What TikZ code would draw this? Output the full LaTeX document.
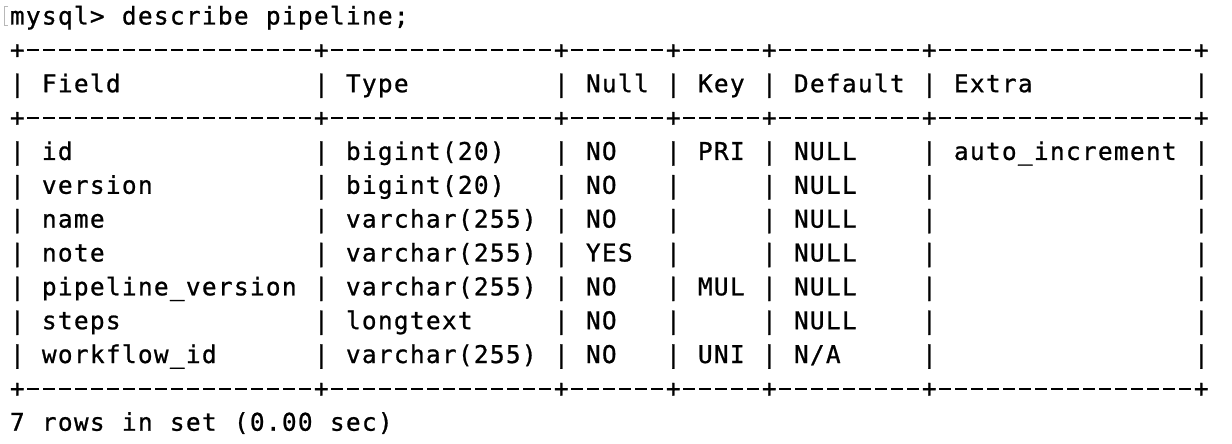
\documentclass[tikz,border=0pt]{standalone}
\usepackage{fontspec}
\newfontfamily\termfont{DejaVu Sans Mono}[FakeBold=0.9]
\ExplSyntaxOn
\NewDocumentCommand\gridstr{m}{\str_map_inline:nn{#1}{\str_if_eq:nnTF{##1}{-}{\makebox[16pt][c]{\rule[7.1pt]{11.6pt}{1.9pt}}}{\makebox[16pt][c]{##1}}}}
\ExplSyntaxOff
\begin{document}
\begin{tikzpicture}[x=1pt,y=1pt,
  term/.style={anchor=base west, inner sep=0pt, outer sep=0pt, font=\termfont\fontsize{24.4}{24.4}\selectfont, text=black},
  cursor/.style={draw=black!28, line width=1.1pt}]
\fill[white] (0,0) rectangle (1232,-444);
\useasboundingbox (0,0) rectangle (1232,-444);
\newcommand\termword[3]{\node[term] (w-#1-#2) at ({9.3+16*#2},{-24.5-33.85*#1}) {\gridstr{#3}};}
% faint cursor bracket
\coordinate (cb1) at (8.2,-6.5);
\coordinate (cb2) at (4.7,-6.5);
\coordinate (cb3) at (4.7,-25.2);
\coordinate (cb4) at (8.2,-25.2);
\draw[cursor] (cb1) -- (cb2) -- (cb3) -- (cb4);
% prompt
\termword{0}{0}{mysql>}
\termword{0}{7}{describe}
\termword{0}{16}{pipeline;}
% borders
\foreach \l in {1,3,11}{\termword{\l}{0}{+------------------+--------------+------+-----+---------+----------------+}}
% pipes
\foreach \l in {2,4,5,6,7,8,9,10}{\foreach \c in {0,19,34,41,47,57,74}{\termword{\l}{\c}{|}}}
% header
\termword{2}{2}{Field}
\termword{2}{21}{Type}
\termword{2}{36}{Null}
\termword{2}{43}{Key}
\termword{2}{49}{Default}
\termword{2}{59}{Extra}
% rows
\termword{4}{2}{id}
\termword{4}{21}{bigint(20)}
\termword{4}{36}{NO}
\termword{4}{43}{PRI}
\termword{4}{49}{NULL}
\termword{4}{59}{auto_increment}
\termword{5}{2}{version}
\termword{5}{21}{bigint(20)}
\termword{5}{36}{NO}
\termword{5}{49}{NULL}
\termword{6}{2}{name}
\termword{6}{21}{varchar(255)}
\termword{6}{36}{NO}
\termword{6}{49}{NULL}
\termword{7}{2}{note}
\termword{7}{21}{varchar(255)}
\termword{7}{36}{YES}
\termword{7}{49}{NULL}
\termword{8}{2}{pipeline_version}
\termword{8}{21}{varchar(255)}
\termword{8}{36}{NO}
\termword{8}{43}{MUL}
\termword{8}{49}{NULL}
\termword{9}{2}{steps}
\termword{9}{21}{longtext}
\termword{9}{36}{NO}
\termword{9}{49}{NULL}
\termword{10}{2}{workflow_id}
\termword{10}{21}{varchar(255)}
\termword{10}{36}{NO}
\termword{10}{43}{UNI}
\termword{10}{49}{N/A}
% footer
\termword{12}{0}{7}
\termword{12}{2}{rows}
\termword{12}{7}{in}
\termword{12}{10}{set}
\termword{12}{14}{(0.00}
\termword{12}{20}{sec)}
\end{tikzpicture}
\end{document}
